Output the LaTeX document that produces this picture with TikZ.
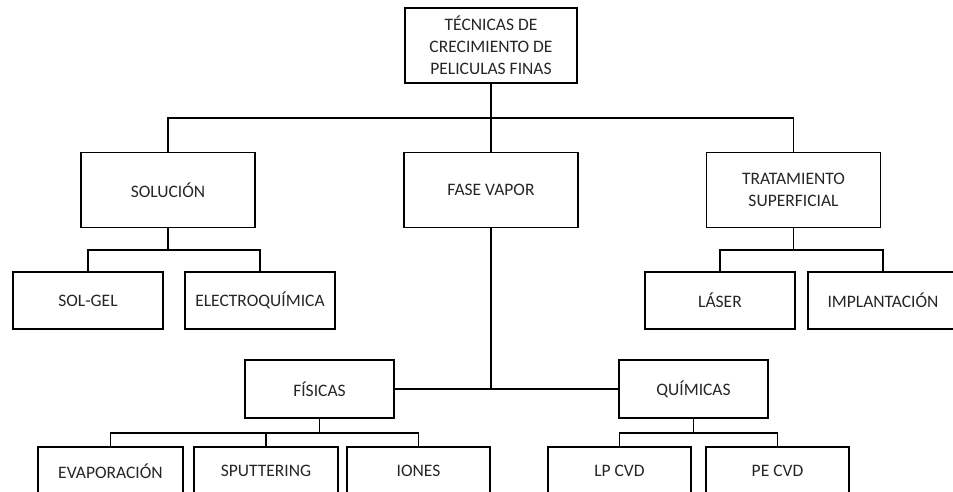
\documentclass[tikz,border=0pt]{standalone}
\usepackage{fontspec}
\setmainfont{Carlito}
\usepackage{xcolor}
\definecolor{box-text}{HTML}{262626}

\begin{document}
\begin{tikzpicture}[x=1pt, y=-1pt,
        every node/.style={font=\fontsize{17.5}{22}\selectfont, text=box-text},
        box/.style={draw=black, line width=1.8pt, inner sep=0pt, align=center},
        bigbox/.style={box, minimum width=174pt, minimum height=75pt},
        midbox/.style={box, minimum width=149pt, minimum height=58pt},
        smallbox/.style={box, minimum width=146pt, minimum height=57pt},
        lowbox/.style={box, minimum width=144pt, minimum height=48pt},
        link/.style={line width=1.8pt, line join=miter}]
      \clip (0,0) rectangle (953,491);
      \fill[white] (0,0) rectangle (953,491);
      % level 0 and 1
      \node[bigbox, minimum width=172pt] (root) at (491,45.5) {TÉCNICAS DE\\CRECIMIENTO DE\\PELICULAS FINAS};
      \node[bigbox] (sol) at (168,190) {SOLUCIÓN};
      \node[bigbox] (fase) at (491,190) {FASE VAPOR};
      \node[bigbox] (trat) at (793.5,190) {TRATAMIENTO\\SUPERFICIAL};
      % level 2
      \node[smallbox, minimum width=150pt] (solgel) at (88,300.5) {SOL-GEL};
      \node[smallbox, minimum width=150pt] (electro) at (260,300.5) {ELECTROQUÍMICA};
      \node[smallbox, minimum width=150pt] (laser) at (720,300.5) {LÁSER};
      \node[smallbox, minimum width=150pt] (impl) at (883,300.5) {IMPLANTACIÓN};
      \node[midbox] (fis) at (319.5,389) {FÍSICAS};
      \node[midbox] (qui) at (693.5,389) {QUÍMICAS};
      % level 3
      \node[lowbox, minimum width=145pt] (evap) at (110.5,471) {EVAPORACIÓN};
      \node[lowbox] (sput) at (266,471) {SPUTTERING};
      \node[lowbox, minimum width=143pt] (iones) at (418.5,471) {IONES};
      \node[lowbox, minimum width=143pt] (lpcvd) at (619.5,471) {LP CVD};
      \node[lowbox, minimum width=143pt] (pecvd) at (777.5,471) {PE CVD};
      % buses
      \coordinate (topbus) at (491,118);
      \coordinate (solbus) at (168,250);
      \coordinate (tratbus) at (793.5,250);
      \coordinate (fisbus) at (319.5,433);
      \coordinate (quibus) at (693.5,433);
      % connectors
      \draw[link] (root) -- (fase);
      \draw[link] (sol.north) |- (topbus) -| (trat.north);
      \draw[link] (sol) -- (solbus);
      \draw[link] (solgel.north) |- (solbus) -| (electro.north);
      \draw[link] (trat) -- (tratbus);
      \draw[link] (laser.north) |- (tratbus) -| (impl.north);
      \draw[link] (fase.south) |- (fis.east);
      \draw[link] (fase.south) |- (qui.west);
      \draw[link] (fis) -- (fisbus);
      \draw[link] (evap.north) |- (fisbus) -| (iones.north);
      \draw[link] (sput.north) -- (sput.north |- fisbus);
      \draw[link] (qui) -- (quibus);
      \draw[link] (lpcvd.north) |- (quibus) -| (pecvd.north);
    \end{tikzpicture}
\end{document}
